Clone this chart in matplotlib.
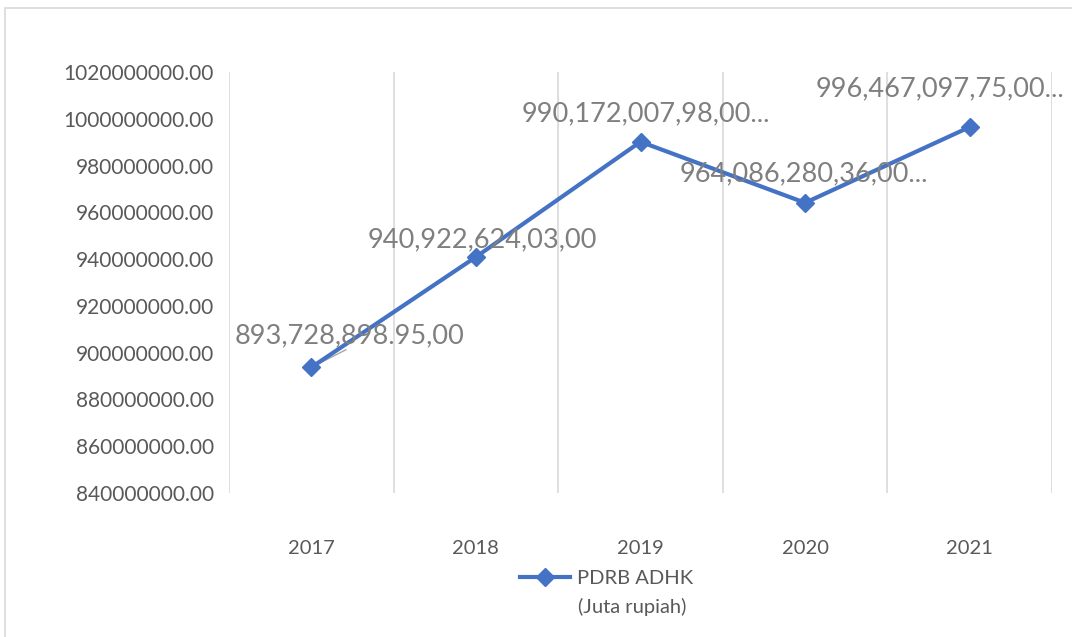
import matplotlib.pyplot as plt
from matplotlib.patches import Rectangle

# --------- DATA ---------
years = ["2017", "2018", "2019", "2020", "2021"]
pdrb = [893728898.95, 940922624.03, 990172007.98, 964086280.36, 996467097.75]
point_labels = [
    "893,728,898.95,00",
    "940,922,624,03,00",
    "990,172,007,98,00...",
    "964,086,280,36,00...",
    "996,467,097,75,00...",
]
# label offsets from the point (x in categories, y in value units)
label_dx = [0.23, 0.04, 0.03, -0.01, -0.18]
label_dy = [13.5e6, 7.5e6, 12e6, 12.5e6, 16.5e6]
y_ticks = list(range(840000000, 1020000001, 20000000))
series_name = "PDRB ADHK"
series_unit = "(Juta rupiah)"
# ------------------------

plt.rcParams["font.family"] = ["Lato", "DejaVu Sans"]
GRAY = "#595959"
BLUE = "#4472C4"

fig = plt.figure(figsize=(10.72, 6.37), dpi=100)
fig.patches.append(Rectangle((5 / 1072, -0.1), 1.2, 1.1 - 8 / 637, transform=fig.transFigure,
                             fill=False, edgecolor="#d9d9d9", linewidth=1.2))
ax = fig.add_axes([229 / 1072, 1 - 493 / 637, (1052 - 229) / 1072, (493 - 72) / 637])

x = list(range(len(years)))
ax.plot(x, pdrb, color=BLUE, linewidth=3, marker="D", markersize=9,
        label=series_name, zorder=3)

for xi, yi, lab, dx, dy in zip(x, pdrb, point_labels, label_dx, label_dy):
    ax.text(xi + dx, yi + dy, lab, ha="center", va="center", fontsize=19.5,
            color="#7f7f7f", zorder=4)
# leader line for the first label
ax.plot([x[0], x[0] + 0.21], [pdrb[0], pdrb[0] + 7.5e6], color="#a6a6a6", linewidth=1, zorder=2)

ax.set_xlim(-0.5, len(years) - 0.5)
ax.set_ylim(y_ticks[0], y_ticks[-1])
ax.set_yticks(y_ticks)
ax.set_yticklabels([f"{v:.2f}" for v in y_ticks], fontsize=15, color=GRAY)
ax.set_xticks(x)
ax.set_xticklabels(years, fontsize=14.5, color=GRAY)
ax.tick_params(axis="both", length=0)
ax.tick_params(axis="x", pad=34)
ax.tick_params(axis="y", pad=11)

for b in [i - 0.5 for i in range(len(years) + 1)]:
    ax.axvline(b, color="#d9d9d9", linewidth=1.2, zorder=1)
for s in ax.spines.values():
    s.set_visible(False)

# legend (second line of the label written underneath)
leg = fig.legend(loc="center left", bbox_to_anchor=(520 / 1072, 1 - 578 / 637), frameon=False,
                 fontsize=14.5, handlelength=2.5, handletextpad=0.35,
                 borderpad=0, borderaxespad=0)
for t in leg.get_texts():
    t.set_color(GRAY)
fig.text(578 / 1072, 1 - 607 / 637, series_unit, ha="left", va="center",
         fontsize=14.5, color=GRAY)

fig.savefig("out.png", dpi=100)
